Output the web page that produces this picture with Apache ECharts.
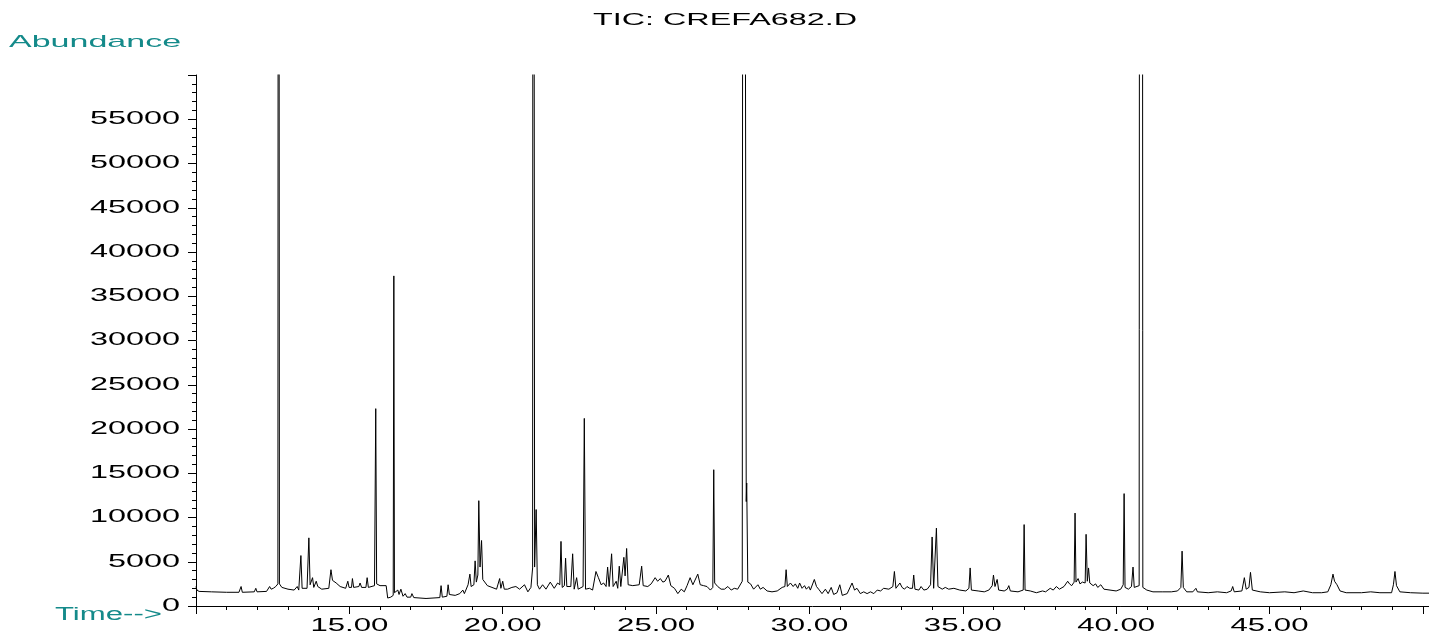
<!DOCTYPE html>
<html><head><meta charset="utf-8">
<script src="https://cdn.jsdelivr.net/npm/echarts@6/dist/echarts.min.js"></script>
<style>html,body{margin:0;padding:0;background:#fff}#c{width:1429px;height:634px}</style>
</head><body><div id="c"></div>
<script>
// Total ion chromatogram: [retention time (min), abundance]
const ticTrace = [
[10.00,2200],[10.03,1800],[10.10,1650],[10.50,1600],[11.00,1550],[11.40,1550],[11.47,2200],[11.51,1550],[11.90,1600],[11.95,2000],[11.99,1600],[12.30,1650],[12.40,2200],[12.45,1900],[12.52,2000],[12.60,2200],[12.67,2500],[12.69,200000],[12.695,200000],[12.72,2500],[12.80,2100],[13.00,1900],[13.20,1800],[13.30,2200],[13.35,1800],[13.38,1900],[13.42,5700],[13.46,2000],[13.62,2000],[13.68,7700],[13.72,2400],[13.80,3200],[13.84,2100],[13.92,2800],[13.97,2200],[14.10,1900],[14.33,2000],[14.40,4100],[14.45,2900],[14.51,3100],[14.57,2600],[14.70,2200],[14.88,2000],[14.95,2800],[14.99,2100],[15.07,2100],[15.10,3100],[15.14,2100],[15.31,2200],[15.35,2600],[15.40,2100],[15.54,2100],[15.58,3200],[15.62,2100],[15.82,2300],[15.86,22300],[15.89,2500],[16.00,2300],[16.20,2300],[16.25,900],[16.35,1000],[16.43,1200],[16.45,37300],[16.47,1500],[16.58,1800],[16.62,1300],[16.68,1900],[16.75,1100],[16.82,1400],[16.88,1000],[17.00,1000],[17.04,1400],[17.10,950],[17.50,850],[17.95,950],[17.99,2300],[18.03,1000],[18.18,1100],[18.22,2400],[18.26,1300],[18.45,1200],[18.60,1400],[18.70,1800],[18.75,1400],[18.87,2400],[18.93,3600],[18.97,2200],[19.06,2400],[19.10,5100],[19.14,2700],[19.19,3500],[19.22,11900],[19.26,4400],[19.31,7400],[19.35,3000],[19.50,2300],[19.65,2100],[19.80,1900],[19.90,3100],[19.94,2000],[20.00,2800],[20.05,1900],[20.16,1900],[20.30,2100],[20.43,2200],[20.55,1900],[20.71,2400],[20.82,1600],[20.92,2100],[20.975,4300],[20.995,200000],[21.005,200000],[21.04,4400],[21.09,10900],[21.13,2400],[21.20,1900],[21.30,2400],[21.41,1900],[21.55,2700],[21.68,2000],[21.79,2600],[21.86,2400],[21.90,7300],[21.94,2100],[22.01,2300],[22.05,5400],[22.09,2200],[22.22,2200],[22.28,5900],[22.33,1900],[22.41,3200],[22.46,1900],[22.62,2200],[22.66,21200],[22.70,1900],[22.83,2000],[22.93,1800],[23.04,3900],[23.12,3200],[23.21,2400],[23.29,2600],[23.37,2200],[23.42,4400],[23.47,2200],[23.55,5900],[23.60,2200],[23.70,2800],[23.75,2000],[23.80,4500],[23.85,2200],[23.95,5500],[23.99,3400],[24.04,6500],[24.09,2400],[24.24,2300],[24.45,2400],[24.53,4500],[24.58,2300],[24.73,2200],[24.84,2500],[24.97,3200],[25.05,2800],[25.14,3100],[25.22,2700],[25.29,2800],[25.40,3500],[25.48,2300],[25.60,2000],[25.71,1400],[25.82,1900],[25.92,1600],[26.01,2300],[26.11,3200],[26.20,2400],[26.36,3600],[26.44,2400],[26.55,2300],[26.66,2200],[26.77,1800],[26.85,2100],[26.88,15400],[26.91,2600],[27.01,2200],[27.12,1900],[27.23,1900],[27.34,2200],[27.45,1800],[27.55,2000],[27.66,1900],[27.81,2800],[27.845,200000],[27.91,200000],[27.94,11800],[27.955,13900],[27.99,2700],[28.08,2500],[28.18,1900],[28.32,2400],[28.40,1900],[28.49,2100],[28.62,1700],[28.78,1600],[28.95,1700],[29.11,2100],[29.20,2200],[29.24,4100],[29.28,2200],[29.38,2600],[29.47,2200],[29.54,2500],[29.62,2000],[29.68,2600],[29.76,2000],[29.84,2300],[29.90,1900],[29.98,2200],[30.03,1800],[30.16,3000],[30.23,2200],[30.30,1900],[30.41,1400],[30.52,1900],[30.61,1400],[30.71,2100],[30.79,1300],[30.90,1500],[30.99,2400],[31.07,1200],[31.23,1400],[31.39,2600],[31.47,1800],[31.55,2000],[31.66,1400],[31.77,1600],[31.88,1400],[31.99,1600],[32.10,1400],[32.21,1800],[32.32,1700],[32.42,2000],[32.59,1900],[32.72,2200],[32.77,3900],[32.82,2000],[32.95,2600],[33.02,2100],[33.10,1900],[33.18,2200],[33.27,2000],[33.36,2000],[33.40,3500],[33.44,1900],[33.57,1800],[33.64,2200],[33.73,1800],[33.84,1900],[33.95,2400],[34.00,7800],[34.05,2000],[34.10,2200],[34.14,8800],[34.19,2200],[34.33,1900],[34.43,2100],[34.54,1900],[34.71,2000],[34.90,1800],[35.10,1700],[35.20,2000],[35.24,4300],[35.28,1800],[35.50,1700],[35.70,1600],[35.85,1800],[35.96,2300],[36.00,3500],[36.05,2200],[36.12,3000],[36.17,1800],[36.35,1700],[36.45,1900],[36.50,2300],[36.55,1700],[36.80,1600],[36.97,1800],[37.00,9200],[37.03,1800],[37.20,1700],[37.40,1500],[37.60,1700],[37.70,1600],[37.85,2000],[37.95,1800],[38.05,2200],[38.15,1900],[38.30,2200],[38.42,2800],[38.48,2500],[38.55,2300],[38.63,2700],[38.66,10500],[38.69,2700],[38.76,3100],[38.82,2500],[38.90,2700],[38.99,2600],[39.02,8100],[39.06,2800],[39.10,4300],[39.14,2600],[39.25,2300],[39.33,2500],[39.40,2100],[39.50,2400],[39.60,1900],[39.80,1800],[40.00,1700],[40.15,1900],[40.23,2400],[40.26,12700],[40.29,2100],[40.40,1900],[40.50,2200],[40.55,4400],[40.59,2100],[40.75,2300],[40.775,200000],[40.845,200000],[40.87,2100],[41.00,1800],[41.20,1600],[41.50,1600],[41.80,1600],[42.00,1700],[42.11,2100],[42.15,6200],[42.19,2100],[42.30,1600],[42.50,1600],[42.60,2000],[42.65,1600],[43.00,1500],[43.30,1600],[43.60,1500],[43.75,1700],[43.80,2200],[43.85,1600],[44.10,1700],[44.18,3200],[44.24,1900],[44.33,2100],[44.38,3800],[44.44,1800],[44.70,1600],[45.00,1500],[45.50,1600],[45.80,1500],[46.10,1700],[46.40,1500],[46.70,1500],[46.90,1600],[47.00,2400],[47.07,3600],[47.12,2800],[47.20,2400],[47.30,1700],[47.50,1500],[48.00,1500],[48.30,1600],[48.60,1500],[48.98,1500],[49.04,2400],[49.09,3900],[49.14,2300],[49.25,1600],[49.60,1500],[50.00,1450],[50.20,1450]
];
const xTickLabels = ['15.00','20.00','25.00','30.00','35.00','40.00','45.00'];
const yTickLabels = ['0','5000','10000','15000','20000','25000','30000','35000','40000','45000','50000','55000'];
const titleText = 'TIC: CREFA682.D';
const yAxisName = 'Abundance';
const xAxisName = 'Time-->';

const FONT = '"Liberation Sans", Arial, sans-serif';
const TEAL = '#148a8a';
const chart = echarts.init(document.getElementById('c'), null, {renderer: 'canvas'});
chart.setOption({
  animation: false,
  backgroundColor: '#fff',
  grid: {left: 196, right: 0, top: 75, bottom: 28},
  xAxis: [
    {type: 'value', min: 10, max: 50.2, interval: 5, position: 'bottom',
     axisLine: {show: true, onZero: false, lineStyle: {color: '#000', width: 1}},
     axisTick: {show: true, length: 8, lineStyle: {color: '#000', width: 1}},
     axisLabel: {show: false}, splitLine: {show: false}},
    {type: 'value', min: 10, max: 50.2, interval: 1, position: 'bottom',
     axisLine: {show: false},
     axisTick: {show: true, length: 4, lineStyle: {color: '#000', width: 1}},
     axisLabel: {show: false}, splitLine: {show: false}}
  ],
  yAxis: [
    {type: 'value', min: 0, max: 60000, interval: 5000, position: 'left',
     axisLine: {show: true, onZero: false, lineStyle: {color: '#000', width: 1}},
     axisTick: {show: true, length: 8, lineStyle: {color: '#000', width: 1}},
     axisLabel: {show: false}, splitLine: {show: false}},
    {type: 'value', min: 0, max: 60000, interval: 1000, position: 'left',
     axisLine: {show: false},
     axisTick: {show: true, length: 4, lineStyle: {color: '#000', width: 1}},
     axisLabel: {show: false}, splitLine: {show: false}}
  ],
  series: [{
    type: 'line', xAxisIndex: 0, yAxisIndex: 0,
    data: ticTrace, showSymbol: false, symbol: 'none', clip: true,
    sampling: null, smooth: false,
    lineStyle: {color: '#000', width: 1}
  }]
});

function txt(text, x, y, size, sx, align, color) {
  return {type: 'text', x: x, y: y, scaleX: sx, scaleY: 1, silent: true, z: 100,
    style: {text: text, x: 0, y: 0, font: size + 'px ' + FONT, fontSize: size, fontFamily: FONT,
      fill: color || '#000', align: align, textAlign: align,
      verticalAlign: 'middle', textVerticalAlign: 'middle'}};
}
const g = [];
xTickLabels.forEach(function (lab) {
  const px = chart.convertToPixel({xAxisIndex: 0}, parseFloat(lab));
  g.push(txt(lab, px, 626.5, 18, 1.73, 'center'));
});
yTickLabels.forEach(function (lab) {
  const py = chart.convertToPixel({yAxisIndex: 0}, parseFloat(lab));
  g.push(txt(lab, 180, py, 18, 1.8, 'right'));
});
g.push(txt(titleText, 725, 21, 16, 2.02, 'center'));
g.push(txt(yAxisName, 9, 42, 17, 2.0, 'left', TEAL));
g.push(txt(xAxisName, 55, 615, 18, 1.73, 'left', TEAL));
chart.setOption({graphic: {elements: g}});
</script></body></html>
